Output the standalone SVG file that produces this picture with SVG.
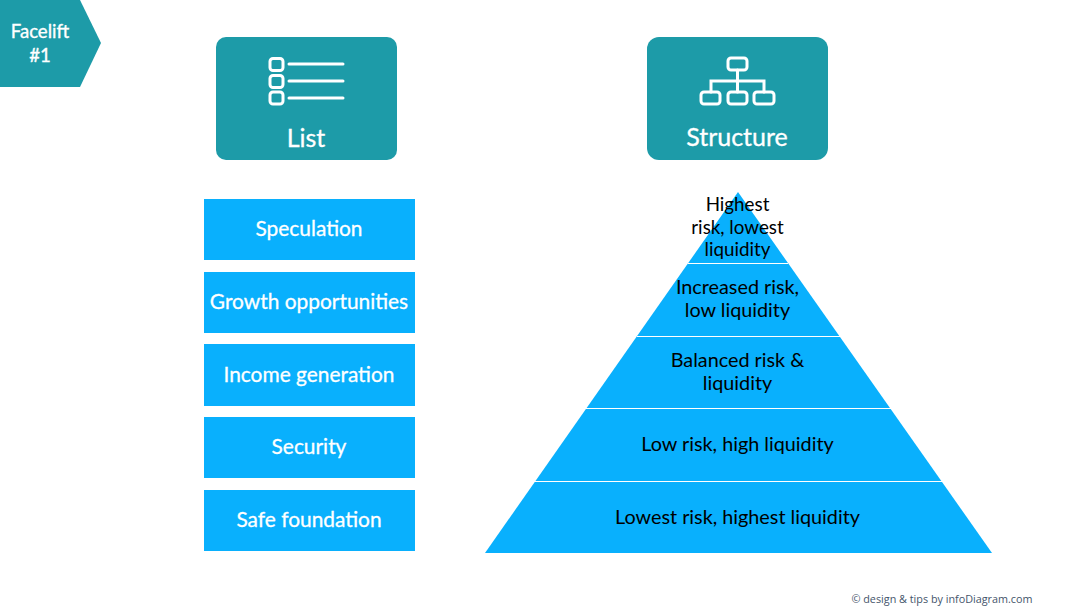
<svg xmlns="http://www.w3.org/2000/svg" width="1080" height="608" viewBox="0 0 1080 608">
<style>
text{font-family:Lato,"Liberation Sans",sans-serif;text-anchor:middle}
.w{fill:#fff;stroke:#fff;stroke-width:.35}
.b{fill:#09b0fd}
.t{fill:#1d9ba8}
.k{fill:#000;font-size:19.8px}
.s{font-size:18.8px}
.l{fill:#fff;font-size:20.9px;stroke:#fff;stroke-width:.3}
.h{fill:#fff;font-size:25px;stroke:#fff;stroke-width:.3}
.i{fill:none;stroke:#fff;stroke-width:3;stroke-linecap:round}
.d{stroke:#fff;stroke-width:1.2;fill:none}
</style>
<rect width="1080" height="608" fill="#fff"/>
<g id="badge">
<polygon class="t" points="0,0 80,0 101,43 80,87 0,87"/>
<text class="w" x="40" y="38" font-size="18.600">Facelift</text>
<text class="w" x="40" y="62" font-size="18.600">#1</text>
</g>
<g id="list-header">
<rect class="t" x="216" y="37" width="181" height="123" rx="10"/>
<g class="i">
<rect x="270" y="58.500" width="13" height="12" rx="3"/>
<rect x="270" y="75.500" width="13" height="12" rx="3"/>
<rect x="270" y="92" width="13" height="12" rx="3"/>
<path d="M289 64H343M289 81H343M289 98H343"/>
</g>
<text class="h" x="306" y="147">List</text>
</g>
<g id="structure-header">
<rect class="t" x="647" y="37" width="181" height="123" rx="12"/>
<g class="i">
<rect x="728" y="58" width="19" height="12" rx="3"/>
<rect x="701" y="92" width="19" height="12" rx="3"/>
<rect x="728" y="92" width="19" height="12" rx="3"/>
<rect x="754" y="92" width="20" height="12" rx="3"/>
<path d="M737.500 70V92M711 92V81H764V92"/>
</g>
<text class="h" x="737" y="146">Structure</text>
</g>
<g id="speculation"><rect class="b" x="204" y="199" width="211" height="61"/><text class="l" x="309" y="236">Speculation</text></g>
<g id="growth"><rect class="b" x="204" y="272" width="211" height="61"/><text class="l" x="309" y="309">Growth opportunities</text></g>
<g id="income"><rect class="b" x="204" y="344" width="211" height="62"/><text class="l" x="309" y="382">Income generation</text></g>
<g id="security"><rect class="b" x="204" y="417" width="211" height="61"/><text class="l" x="309" y="454">Security</text></g>
<g id="foundation"><rect class="b" x="204" y="490" width="211" height="61"/><text class="l" x="309" y="527">Safe foundation</text></g>
<g id="pyramid">
<polygon class="b" points="738,192 992,553 485,553"/>
<path class="d" d="M688 263.500H788M637 336.500H840M585 408.500H891M534 481.500H943"/>
</g>
<g id="pyramid-labels">
<text class="k s" x="737.500" y="211">Highest</text>
<text class="k s" x="737.500" y="234">risk, lowest</text>
<text class="k s" x="737.500" y="256">liquidity</text>
<text class="k" x="737.500" y="294">Increased risk,</text>
<text class="k" x="737.500" y="317">low liquidity</text>
<text class="k" x="737.500" y="367">Balanced risk &amp;</text>
<text class="k" x="737.500" y="390">liquidity</text>
<text class="k" x="737.500" y="451">Low risk, high liquidity</text>
<text class="k" x="737.500" y="524">Lowest risk, highest liquidity</text>
</g>
<text x="942" y="603" font-size="10.800" fill="#44546a" style="font-family:'Open Sans',sans-serif">© design &amp; tips by infoDiagram.com</text>
</svg>
